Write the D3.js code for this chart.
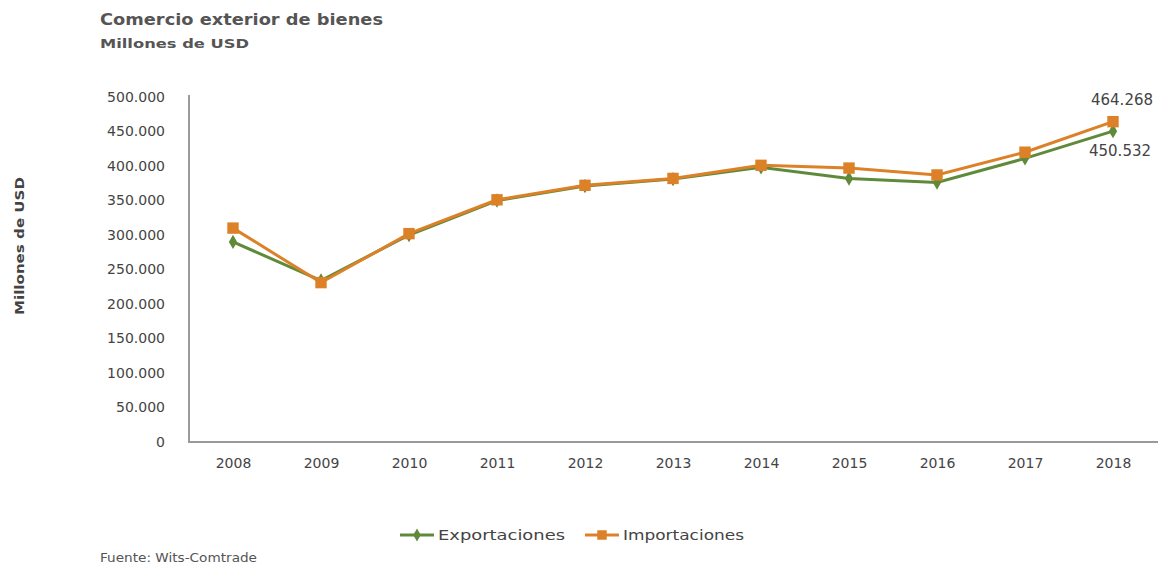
<!DOCTYPE html>
<html><head><meta charset="utf-8">
<script src="https://cdn.jsdelivr.net/npm/d3@7"></script>
<style>body{margin:0;background:#fff}svg{display:block}text{font-family:"DejaVu Sans",Verdana,sans-serif}</style>
</head><body>
<svg id="c" width="1162" height="568"></svg>
<script>
const years = ["2008","2009","2010","2011","2012","2013","2014","2015","2016","2017","2018"];
const exportaciones = [290000, 234000, 300000, 350000, 371000, 381000, 398000, 382000, 376000, 411000, 450532];
const importaciones = [310000, 231000, 302000, 351000, 372000, 382000, 401000, 397000, 387000, 420000, 464268];
const yTicks = [0, 50000, 100000, 150000, 200000, 250000, 300000, 350000, 400000, 450000, 500000];
const seriesNames = ["Exportaciones", "Importaciones"];

const svg = d3.select("#c");
const x = d3.scalePoint().domain(years).range([233, 1113]);
const y = d3.scaleLinear().domain([0, 500000]).range([442, 97]);
const fmt = v => d3.format(",")(v).replace(/,/g, ".");
const green = "#5f8a3a", orange = "#dd8128";
const FF = "DejaVu Sans, Verdana, sans-serif";
const SG = "spacingAndGlyphs";

// titles
svg.append("text").attr("x", 100).attr("y", 25).attr("font-size", 15).attr("font-weight", "bold").attr("fill", "#555").attr("textLength", 283).attr("lengthAdjust", SG).text("Comercio exterior de bienes");
svg.append("text").attr("x", 100).attr("y", 48).attr("font-size", 13).attr("font-weight", "bold").attr("fill", "#555").attr("textLength", 149).attr("lengthAdjust", SG).text("Millones de USD");
svg.append("text").attr("transform", "translate(24,246) rotate(-90)").attr("text-anchor", "middle").attr("font-size", 12).attr("font-weight", "bold").attr("fill", "#444").attr("textLength", 138).attr("lengthAdjust", SG).text("Millones de USD");

// axes
const ya = svg.append("g").attr("transform", "translate(189,0)")
  .call(d3.axisLeft(y).tickValues(yTicks).tickFormat(fmt).tickSize(0).tickPadding(24));
ya.select(".domain").attr("stroke", "#9a9a9a").attr("stroke-width", 2).attr("d", "M0,95V442");
ya.selectAll("text").attr("font-size", 14).attr("fill", "#444").attr("font-family", FF);
const xa = svg.append("g").attr("transform", "translate(0,442)")
  .call(d3.axisBottom(x).tickSize(0).tickPadding(16));
xa.select(".domain").attr("stroke", "#9a9a9a").attr("stroke-width", 2).attr("d", "M188,0H1158");
xa.selectAll("text").attr("font-size", 14).attr("fill", "#444").attr("font-family", FF);

const line = d3.line().x((d, i) => x(years[i])).y(d => y(d));
function drawSeries(vals, color, shape) {
  svg.append("path").datum(vals).attr("d", line).attr("fill", "none").attr("stroke", color).attr("stroke-width", 3);
  const sym = d3.symbol().type(shape).size(shape === d3.symbolSquare ? 130 : 60);
  svg.append("g").selectAll("path").data(vals).join("path")
    .attr("transform", (d, i) => `translate(${x(years[i])},${y(d)})`)
    .attr("d", sym).attr("fill", color);
}
drawSeries(exportaciones, green, d3.symbolDiamond);
drawSeries(importaciones, orange, d3.symbolSquare);

// value labels for last year
const last = years.length - 1;
svg.append("text").attr("x", x(years[last]) + 9).attr("y", y(importaciones[last]) - 17).attr("text-anchor", "middle").attr("font-size", 15).attr("fill", "#444").text(fmt(importaciones[last]));
svg.append("text").attr("x", x(years[last]) + 7).attr("y", y(exportaciones[last]) + 25).attr("text-anchor", "middle").attr("font-size", 15).attr("fill", "#444").text(fmt(exportaciones[last]));

// legend
const leg = [{name: seriesNames[0], color: green, shape: d3.symbolDiamond, x: 400, w: 127}, {name: seriesNames[1], color: orange, shape: d3.symbolSquare, x: 585, w: 121}];
leg.forEach(l => {
  svg.append("line").attr("x1", l.x).attr("x2", l.x + 34).attr("y1", 535).attr("y2", 535).attr("stroke", l.color).attr("stroke-width", 3);
  svg.append("path").attr("transform", `translate(${l.x + 17},535)`).attr("d", d3.symbol().type(l.shape).size(l.shape === d3.symbolSquare ? 90 : 50)).attr("fill", l.color);
  svg.append("text").attr("x", l.x + 38).attr("y", 540).attr("font-size", 14).attr("fill", "#444").attr("textLength", l.w).attr("lengthAdjust", SG).text(l.name);
});

svg.append("text").attr("x", 100).attr("y", 562).attr("font-size", 12).attr("fill", "#555").attr("textLength", 157).attr("lengthAdjust", SG).text("Fuente: Wits-Comtrade");
</script>
</body></html>
